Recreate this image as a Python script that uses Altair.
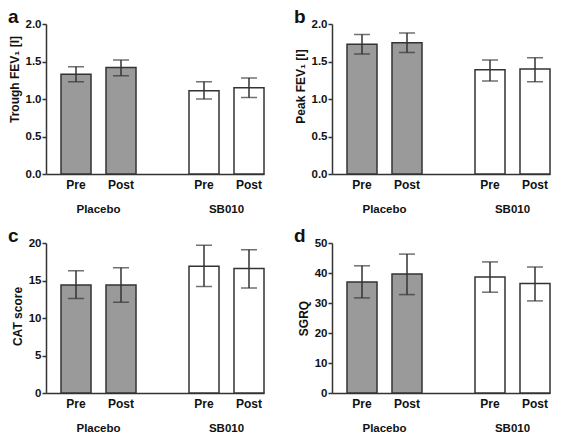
import altair as alt
import pandas as pd

groups = ["Placebo", "Placebo", "SB010", "SB010"]
times = ["Pre", "Post", "Pre", "Post"]

trough_mean = [1.33, 1.42, 1.11, 1.15]
trough_lo = [1.23, 1.31, 1.00, 1.02]
trough_hi = [1.43, 1.52, 1.23, 1.28]

peak_mean = [1.73, 1.75, 1.39, 1.40]
peak_lo = [1.60, 1.62, 1.24, 1.23]
peak_hi = [1.86, 1.88, 1.52, 1.55]

cat_mean = [14.4, 14.4, 16.9, 16.6]
cat_lo = [12.6, 12.1, 14.2, 14.0]
cat_hi = [16.3, 16.7, 19.7, 19.1]

sgrq_mean = [37.0, 39.7, 38.7, 36.5]
sgrq_lo = [31.7, 32.8, 33.6, 30.7]
sgrq_hi = [42.4, 46.3, 43.7, 42.0]

FONT = "Liberation Sans"
DARK = "#333333"
W, H = 218, 150


def panel(letter, title, mean, lo, hi, ymax, ticks, fmt, title_y):
    df = pd.DataFrame({"group": groups, "time": times, "mean": mean, "lo": lo, "hi": hi})
    x = alt.X("group:N", sort=["Placebo", "SB010"],
              scale=alt.Scale(paddingInner=0.414, paddingOuter=0.0586, align=1),
              axis=alt.Axis(title=None, labelAngle=0, ticks=False, labelPadding=29,
                            labelFontSize=11.5))
    xo = alt.XOffset("time:N", sort=["Pre", "Post"],
                     scale=alt.Scale(paddingInner=0.333, paddingOuter=0))
    yscale = alt.Scale(domain=[0, ymax], nice=False, zero=True)
    yaxis = alt.Axis(title=title, values=[float(t) for t in ticks], format=fmt,
                     grid=False, labelOverlap=False, titleY=title_y)
    y = alt.Y("mean:Q", scale=yscale, axis=yaxis)
    y_lo = alt.Y("lo:Q", scale=yscale, axis=yaxis)
    y_hi = alt.Y("hi:Q", scale=yscale, axis=yaxis)
    base = alt.Chart(df)
    bars = base.mark_bar(stroke=DARK, strokeWidth=1.5).encode(
        x=x, xOffset=xo, y=y,
        fill=alt.Fill("group:N", scale=alt.Scale(domain=["Placebo", "SB010"],
                                                 range=["#9a9a9a", "#ffffff"]), legend=None))
    rule = base.mark_rule(color=DARK, strokeWidth=1.5).encode(
        x=x, xOffset=xo, y=y_lo, y2="hi:Q")
    cap_hi = base.mark_tick(orient="horizontal", size=16, thickness=1.5, color=DARK).encode(
        x=x, xOffset=xo, y=y_hi)
    cap_lo = base.mark_tick(orient="horizontal", size=16, thickness=1.5, color=DARK).encode(
        x=x, xOffset=xo, y=y_lo)
    labels = base.mark_text(font=FONT, fontWeight="bold", fontSize=12, baseline="middle",
                            color="#111111").encode(
        x=x, xOffset=xo, y=alt.value(H + 11), text="time:N")
    let = alt.Chart(pd.DataFrame({"l": [letter]})).mark_text(
        align="left", baseline="alphabetic", fontSize=19, fontWeight="bold", font=FONT,
        color="#111111").encode(x=alt.value(-38), y=alt.value(-1), text="l:N")
    return alt.layer(bars, rule, cap_hi, cap_lo, labels, let).properties(width=W, height=H)


a = panel("a", "Trough FEV\u2081 [l]", trough_mean, trough_lo, trough_hi, 2.0,
          [0, 0.5, 1.0, 1.5, 2.0], ".1f", 55)
b = panel("b", "Peak FEV\u2081 [l]", peak_mean, peak_lo, peak_hi, 2.0,
          [0, 0.5, 1.0, 1.5, 2.0], ".1f", 62)
c = panel("c", "CAT score", cat_mean, cat_lo, cat_hi, 20, [0, 5, 10, 15, 20], "d", 73)
d = panel("d", "SGRQ", sgrq_mean, sgrq_lo, sgrq_hi, 50, [0, 10, 20, 30, 40, 50], "d", 75)

chart = alt.vconcat(
    alt.hconcat(a, b, spacing=29),
    alt.hconcat(c, d, spacing=29),
    spacing=12,
).configure_view(stroke=None).configure_axis(
    labelFont=FONT, labelFontWeight="bold", labelFontSize=11.5, labelColor="#111111",
    labelPadding=1, labelOverlap=False,
    titleFont=FONT, titleFontWeight="bold", titleFontSize=12, titleColor="#111111",
    domainColor=DARK, domainWidth=1.5, tickColor=DARK, tickWidth=1.5, tickSize=4,
    titlePadding=4,
).properties(padding=0)

chart.save("out.html", embed_options={"renderer": "svg", "actions": False})
